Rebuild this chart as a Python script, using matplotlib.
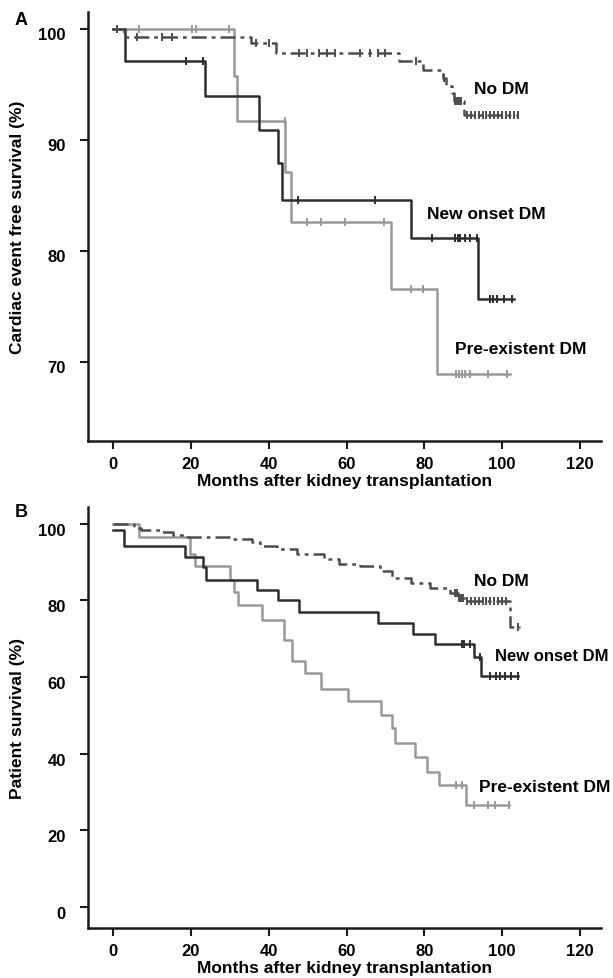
import numpy as np
import matplotlib
matplotlib.use('Agg')
import matplotlib.pyplot as plt
from matplotlib.transforms import ScaledTranslation

plt.rcParams['font.family'] = ['Liberation Sans', 'DejaVu Sans']
plt.rcParams['font.weight'] = 'bold'
plt.rcParams['axes.labelweight'] = 'bold'
plt.rcParams['font.size'] = 12.5

# 心脏事件 (A)
a_no_t = [0, 2.8, 35.3, 41.8, 73.6, 79.6, 84.7, 85.7, 87.2, 87.7, 90.2, 104]
a_no_s = [100, 99.3, 98.7, 97.8, 97.1, 96.3, 95.6, 94.9, 94.2, 93.5, 92.3, 92.3]
a_no_c = [1, 6, 12.6, 15, 36.8, 40, 47.9, 49.9, 52.9, 55, 57, 63.5, 66, 68, 70,
          78, 85, 88, 88.5, 89, 89.5, 91, 92, 93, 94, 95, 96, 97, 98, 99, 100,
          101, 102, 103, 104]

a_new_t = [0, 3, 23.7, 37.5, 42.3, 43.3, 76.6, 93.8, 103]
a_new_s = [100, 97.1, 94.0, 90.9, 87.9, 84.6, 81.2, 75.7, 75.7]
a_new_c = [1, 18.6, 23.2, 47.4, 67.3, 82, 88, 88.7, 89.3, 90.5, 91.7, 93.6,
           96.8, 97.8, 98.8, 100.5, 102.5]

a_pre_t = [0, 31, 31.7, 44.3, 45.6, 71.4, 83.2, 102]
a_pre_s = [100, 95.8, 91.7, 87.1, 82.6, 76.6, 68.9, 68.9]
a_pre_c = [1, 6.5, 20.2, 21.2, 29.7, 44.1, 49.9, 53.4, 59.5, 69.6, 76.6, 79.6,
           88.2, 89, 89.8, 90.6, 91.7, 96.3, 101.3]

# 患者生存 (B)
b_no_t = [0, 5.4, 7.2, 11.9, 15.4, 18.8, 30.9, 35.7, 37.8, 42.1, 47.3, 54.2,
          58, 63.5, 68.5, 71.6, 76.6, 81.6, 86.7, 88.7, 90.7, 102, 104.7]
b_no_s = [100, 99.0, 98.5, 97.8, 97.0, 96.6, 96.1, 95.2, 94.3, 93.5, 92.2,
          90.9, 89.6, 88.9, 87.6, 85.9, 84.6, 83.2, 81.9, 80.6, 79.8, 73.1, 73.1]
b_no_c = [88, 88.5, 89, 89.5, 90, 91, 92, 93, 94, 95, 96, 97, 98, 99, 100,
          101, 104.2]

b_new_t = [0, 2.85, 18.4, 23.1, 23.8, 37, 42.5, 47.7, 68, 77, 82.7, 92.7,
           94.6, 104]
b_new_s = [98.4, 94.2, 91.3, 88.7, 85.4, 82.8, 80.0, 76.9, 74.1, 71.3, 68.6,
           65.2, 60.3, 60.3]
b_new_c = [89.6, 90.3, 91.7, 94.3, 97, 98.5, 99.5, 100.8, 102.2, 104]

b_pre_t = [0, 6.7, 19.7, 21, 30, 31.1, 32.2, 38.3, 44, 45.9, 49.4, 53.4,
           60.5, 69, 71.6, 72.6, 77.6, 80.6, 83.7, 90.7, 101.8]
b_pre_s = [100, 96.5, 92.2, 89.1, 85.4, 82.2, 78.7, 74.9, 69.7, 64.1, 61.0,
           56.9, 53.8, 50.1, 46.6, 42.9, 39.2, 35.3, 31.9, 26.7, 26.7]
b_pre_c = [88.2, 89.7, 92.7, 96.3, 98.3, 101.8]

x_ticks = [0, 20, 40, 60, 80, 100, 120]
a_yticks = [70, 80, 90, 100]
b_yticks = [0, 20, 40, 60, 80, 100]

c_no = '#4d4d4d'
c_new = '#2e2e2e'
c_pre = '#999999'


def km(ax, t, s, c, color, ls='-'):
    line, = ax.step(t, s, where='post', color=color, lw=1.8, ls=ls)
    if ls != '-':
        line.set_dashes([6, 2, 1.5, 2])
    t = np.asarray(t)
    s = np.asarray(s)
    idx = np.searchsorted(t, c, side='right') - 1
    ax.plot(c, s[idx], ls='none', marker='|', ms=6, mew=1.4, color=color)


def style(ax, yticks, ylim, ylabel, dy):
    ax.set_xlim(-6.5, 125.5)
    ax.set_ylim(*ylim)
    ax.set_xticks(x_ticks)
    ax.set_yticks(yticks)
    for sp in ['top', 'right']:
        ax.spines[sp].set_visible(False)
    for sp in ['left', 'bottom']:
        ax.spines[sp].set_linewidth(1.8)
        ax.spines[sp].set_color('#1a1a1a')
    ax.tick_params(direction='out', length=6, width=1.5, labelsize=12,
                   color='#1a1a1a')
    ax.tick_params(axis='y', pad=10)
    ax.tick_params(axis='x', pad=5)
    ax.set_xlabel('Months after kidney transplantation', fontsize=12.5,
                  labelpad=1)
    ax.set_ylabel(ylabel, fontsize=12.5)
    ax.yaxis.set_label_coords(-0.123, 0.5)
    off = ScaledTranslation(0, -dy / 100, ax.figure.dpi_scale_trans)
    for lab in ax.get_yticklabels():
        lab.set_transform(lab.get_transform() + off)


fig = plt.figure(figsize=(6.13, 9.79), dpi=100)
ax1 = fig.add_axes([0.1436, 0.5485, 0.837, 0.4382])
ax2 = fig.add_axes([0.1436, 0.0511, 0.837, 0.4300])

km(ax1, a_pre_t, a_pre_s, a_pre_c, c_pre)
km(ax1, a_new_t, a_new_s, a_new_c, c_new)
km(ax1, a_no_t, a_no_s, a_no_c, c_no, ls='-.')
style(ax1, a_yticks, (62.9, 101.53), 'Cardiac event free survival (%)', 4)
ax1.text(92.7, 94.6, 'No DM', va='center', ha='left')
ax1.text(80.6, 83.4, 'New onset DM', va='center', ha='left')
ax1.text(88.0, 71.2, 'Pre-existent DM', va='center', ha='left')

km(ax2, b_pre_t, b_pre_s, b_pre_c, c_pre)
km(ax2, b_new_t, b_new_s, b_new_c, c_new)
km(ax2, b_no_t, b_no_s, b_no_c, c_no, ls='-.')
style(ax2, b_yticks, (-5.48, 104.4), 'Patient survival (%)', 5)
ax2.text(92.7, 85.1, 'No DM', va='center', ha='left')
ax2.text(98.1, 65.7, 'New onset DM', va='center', ha='left', fontsize=12)
ax2.text(94.0, 31.4, 'Pre-existent DM', va='center', ha='left')

fig.text(0.024, 0.979, 'A', fontsize=13, fontweight='bold', va='center')
fig.text(0.024, 0.477, 'B', fontsize=13, fontweight='bold', va='center')

fig.savefig('out.png', dpi=100)
